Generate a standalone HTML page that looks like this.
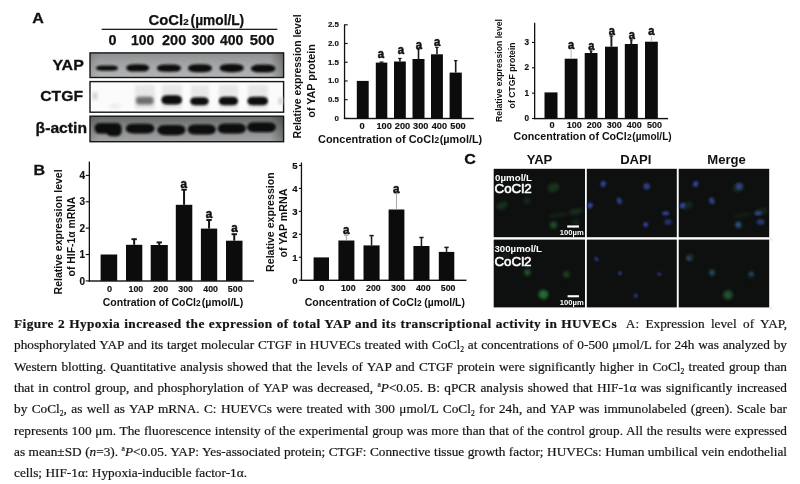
<!DOCTYPE html>
<html>
<head>
<meta charset="utf-8">
<title>Figure 2</title>
<style>
html,body{margin:0;padding:0;background:#fff;}
body{width:800px;height:484px;position:relative;overflow:hidden;font-family:"Liberation Sans",sans-serif;}
#fig{position:absolute;left:0;top:0;width:800px;height:315px;filter:blur(0.35px);}
#fig text{font-family:"Liberation Sans",sans-serif;font-weight:bold;fill:#111;}
.cap{position:absolute;left:14px;width:773px;height:22px;line-height:22px;font-family:"Liberation Serif",serif;font-size:13.3px;color:#141414;-webkit-text-stroke:0.2px #141414;white-space:nowrap;text-align:justify;text-align-last:justify;filter:blur(0.3px);}
.cap b{letter-spacing:0.42px;}
.cap sub{font-size:7.6px;vertical-align:-3px;line-height:0;}
.cap sup{font-size:7.6px;vertical-align:5px;line-height:0;}
</style>
</head>
<body>
<svg id="fig" width="800" height="315" viewBox="0 0 800 315">
<defs>
<filter id="b1" x="-20%" y="-50%" width="140%" height="200%"><feGaussianBlur stdDeviation="0.9"/></filter>
<filter id="b2" x="-30%" y="-60%" width="160%" height="220%"><feGaussianBlur stdDeviation="1.6"/></filter>
<filter id="b3" x="-5%" y="-5%" width="110%" height="110%"><feGaussianBlur stdDeviation="1.6"/></filter>
<filter id="b05" x="-5%" y="-5%" width="110%" height="110%"><feGaussianBlur stdDeviation="0.85"/></filter>
<linearGradient id="gy" x1="0" y1="0" x2="0" y2="1"><stop offset="0" stop-color="#8c8e8f"/><stop offset="0.4" stop-color="#a0a2a3"/><stop offset="1" stop-color="#b2b4b5"/></linearGradient>
<linearGradient id="ga" x1="0" y1="0" x2="0" y2="1"><stop offset="0" stop-color="#666969"/><stop offset="0.45" stop-color="#85888a"/><stop offset="1" stop-color="#a2a4a5"/></linearGradient>
<linearGradient id="ge" x1="0" y1="0" x2="1" y2="0"><stop offset="0" stop-color="#000" stop-opacity="0.10"/><stop offset="0.05" stop-color="#000" stop-opacity="0"/><stop offset="0.93" stop-color="#000" stop-opacity="0"/><stop offset="1" stop-color="#000" stop-opacity="0.28"/></linearGradient>
</defs>
<g id="blot">
<text x="32.3" y="22.6" font-size="15.4" textLength="11.6" lengthAdjust="spacingAndGlyphs" stroke="#111" stroke-width="0.3">A</text>
<text x="148.6" y="24.7" font-size="14.3" textLength="34.6" lengthAdjust="spacingAndGlyphs" stroke="#111" stroke-width="0.25">CoCl</text>
<text x="183.3" y="24.7" font-size="9.8" textLength="5.4" lengthAdjust="spacingAndGlyphs" stroke="#111" stroke-width="0.2">2</text>
<text x="190.6" y="24.7" font-size="14.3" textLength="53.6" lengthAdjust="spacingAndGlyphs" stroke="#111" stroke-width="0.25">(µmol/L)</text>
<rect x="101.7" y="28.7" width="175.6" height="1.3" fill="#1c1c1c"/>
<text x="112.5" y="45" font-size="14.4" text-anchor="middle" textLength="8" lengthAdjust="spacingAndGlyphs" stroke="#111" stroke-width="0.25">0</text>
<text x="142.7" y="45" font-size="14.4" text-anchor="middle" textLength="23.2" lengthAdjust="spacingAndGlyphs" stroke="#111" stroke-width="0.25">100</text>
<text x="174.1" y="45" font-size="14.4" text-anchor="middle" textLength="24.2" lengthAdjust="spacingAndGlyphs" stroke="#111" stroke-width="0.25">200</text>
<text x="203.1" y="45" font-size="14.4" text-anchor="middle" textLength="23.2" lengthAdjust="spacingAndGlyphs" stroke="#111" stroke-width="0.25">300</text>
<text x="231.7" y="45" font-size="14.4" text-anchor="middle" textLength="23.5" lengthAdjust="spacingAndGlyphs" stroke="#111" stroke-width="0.25">400</text>
<text x="262.1" y="45" font-size="14.4" text-anchor="middle" textLength="24.8" lengthAdjust="spacingAndGlyphs" stroke="#111" stroke-width="0.25">500</text>
<text x="52.4" y="69.8" font-size="15.4" textLength="31.4" lengthAdjust="spacingAndGlyphs" stroke="#111" stroke-width="0.3">YAP</text>
<text x="40.2" y="101.3" font-size="15.4" textLength="42.8" lengthAdjust="spacingAndGlyphs" stroke="#111" stroke-width="0.3">CTGF</text>
<text x="35.6" y="133.3" font-size="15.4" textLength="51.4" lengthAdjust="spacingAndGlyphs" stroke="#111" stroke-width="0.3">β-actin</text>
<rect x="90" y="52.9" width="193.6" height="24.6" fill="url(#gy)"/>
<rect x="90" y="52.9" width="193.6" height="24.6" fill="url(#ge)" stroke="#161616" stroke-width="1.4"/>
<g filter="url(#b1)" fill="#101010">
<path d="M96.0 68.1 Q96.0 65.4 102.5 65.4 L111.5 65.4 Q118.0 65.4 118.0 68.1 Q118.0 70.8 111.5 70.8 L102.5 70.8 Q96.0 70.8 96.0 68.1Z"/>
<path d="M126.2 67.9 Q126.2 64.2 135.1 64.2 L140.3 64.2 Q149.2 64.2 149.2 67.9 Q149.2 71.6 140.3 71.6 L135.1 71.6 Q126.2 71.6 126.2 67.9Z"/>
<path d="M157.0 68.2 Q157.0 64.6 165.6 64.6 L172.4 64.6 Q181.0 64.6 181.0 68.2 Q181.0 71.8 172.4 71.8 L165.6 71.8 Q157.0 71.8 157.0 68.2Z"/>
<path d="M188.0 68.2 Q188.0 64.2 197.6 64.2 L202.4 64.2 Q212.0 64.2 212.0 68.2 Q212.0 72.2 202.4 72.2 L197.6 72.2 Q188.0 72.2 188.0 68.2Z"/>
<path d="M219.6 68.1 Q219.6 64.0 229.4 64.0 L234.0 64.0 Q243.8 64.0 243.8 68.1 Q243.8 72.2 234.0 72.2 L229.4 72.2 Q219.6 72.2 219.6 68.1Z"/>
<path d="M250.9 68.6 Q250.9 64.6 260.5 64.6 L265.8 64.6 Q275.4 64.6 275.4 68.6 Q275.4 72.6 265.8 72.6 L260.5 72.6 Q250.9 72.6 250.9 68.6Z"/>
</g>
<rect x="90" y="81.6" width="193.6" height="30.6" fill="#fbfbfb" stroke="#161616" stroke-width="1.4"/>
<g filter="url(#b2)" fill="#cfcfcf" opacity="0.45"><rect x="135" y="85" width="20" height="24"/><rect x="162" y="85" width="20" height="24"/><rect x="191" y="85" width="18" height="24"/><rect x="219" y="85" width="19" height="24"/><rect x="248" y="85" width="20" height="24"/></g>
<g filter="url(#b2)"><rect x="136" y="96.8" width="17.5" height="7.6" rx="3" fill="#6e6e6e"/><ellipse cx="95" cy="96" rx="3" ry="4" fill="#d8d8d8"/><ellipse cx="280.5" cy="101" rx="2.5" ry="4" fill="#d8d8d8"/><ellipse cx="115" cy="106" rx="6" ry="3" fill="#eee"/></g>
<g filter="url(#b1)" fill="#0d0d0d">
<path d="M161.4 99.9 Q161.4 95.3 167.8 95.3 L175.6 95.3 Q182.0 95.3 182.0 99.9 Q182.0 104.5 175.6 104.5 L167.8 104.5 Q161.4 104.5 161.4 99.9Z"/>
<path d="M190.2 101.2 Q190.2 97.2 195.9 97.2 L202.9 97.2 Q208.6 97.2 208.6 101.2 Q208.6 105.3 202.9 105.3 L195.9 105.3 Q190.2 105.3 190.2 101.2Z"/>
<path d="M218.8 101.0 Q218.8 96.7 224.8 96.7 L232.0 96.7 Q238.0 96.7 238.0 101.0 Q238.0 105.3 232.0 105.3 L224.8 105.3 Q218.8 105.3 218.8 101.0Z"/>
<path d="M247.4 101.0 Q247.4 96.7 253.4 96.7 L262.0 96.7 Q268.0 96.7 268.0 101.0 Q268.0 105.3 262.0 105.3 L253.4 105.3 Q247.4 105.3 247.4 101.0Z"/>
</g>
<rect x="90" y="116.2" width="193.6" height="25.5" fill="url(#ga)"/>
<rect x="90" y="116.2" width="193.6" height="25.5" fill="url(#ge)" stroke="#161616" stroke-width="1.4"/>
<g filter="url(#b1)" fill="#0b0b0b">
<path d="M94.6 127.5 q0-4.6 6-4.6 h15 q6 0 6 5.4 v3 q0 5-6 5 h-3.5 q-3.5 0-5.5-2.6 h-6 q-6 0-6-5z"/>
<path d="M125.8 128.6 Q125.8 123.8 133.5 123.8 L146.7 123.8 Q154.4 123.8 154.4 128.6 Q154.4 133.4 146.7 133.4 L133.5 133.4 Q125.8 133.4 125.8 128.6Z"/>
<path d="M157.4 130.1 Q157.4 125.0 165.6 125.0 L177.2 125.0 Q185.4 125.0 185.4 130.1 Q185.4 135.2 177.2 135.2 L165.6 135.2 Q157.4 135.2 157.4 130.1Z"/>
<path d="M187.8 129.4 Q187.8 124.4 195.8 124.4 L207.7 124.4 Q215.7 124.4 215.7 129.4 Q215.7 134.4 207.7 134.4 L195.8 134.4 Q187.8 134.4 187.8 129.4Z"/>
<path d="M217.8 128.4 Q217.8 123.5 225.7 123.5 L237.9 123.5 Q245.8 123.5 245.8 128.4 Q245.8 133.4 237.9 133.4 L225.7 133.4 Q217.8 133.4 217.8 128.4Z"/>
<path d="M247.2 127.2 Q247.2 122.2 255.2 122.2 L267.8 122.2 Q275.8 122.2 275.8 127.2 Q275.8 132.2 267.8 132.2 L255.2 132.2 Q247.2 132.2 247.2 127.2Z"/>
</g>
</g>
<g id="c1">
<rect x="343.9" y="24.4" width="1.3" height="94.6" fill="#111"/>
<rect x="343.9" y="117.80000000000001" width="129.9" height="1.4" fill="#111"/>
<rect x="344.5" y="24.23" width="3.2" height="1.1" fill="#111"/>
<text x="338.9" y="27.1" font-size="7.9" text-anchor="end" stroke="#111" stroke-width="0.16">2.5</text>
<rect x="344.5" y="42.95" width="3.2" height="1.1" fill="#111"/>
<text x="338.9" y="45.8" font-size="7.9" text-anchor="end" stroke="#111" stroke-width="0.16">2.0</text>
<rect x="344.5" y="61.68" width="3.2" height="1.1" fill="#111"/>
<text x="338.9" y="64.6" font-size="7.9" text-anchor="end" stroke="#111" stroke-width="0.16">1.5</text>
<rect x="344.5" y="80.40" width="3.2" height="1.1" fill="#111"/>
<text x="338.9" y="83.3" font-size="7.9" text-anchor="end" stroke="#111" stroke-width="0.16">1.0</text>
<rect x="344.5" y="99.13" width="3.2" height="1.1" fill="#111"/>
<text x="338.9" y="102.0" font-size="7.9" text-anchor="end" stroke="#111" stroke-width="0.16">0.5</text>
<rect x="344.5" y="117.85" width="3.2" height="1.1" fill="#111"/>
<text x="338.9" y="120.7" font-size="7.9" text-anchor="end" stroke="#111" stroke-width="0.16">0</text>
<rect x="356.8" y="80.9" width="11.9" height="37.5" fill="#0c0c0c"/>
<rect x="375.8" y="62.6" width="11.5" height="55.8" fill="#0c0c0c"/>
<rect x="380.75" y="62.0" width="1.6" height="0.6" fill="#1a1a1a"/>
<rect x="379.55" y="61.45" width="4" height="1.2" fill="#1a1a1a"/>
<rect x="394" y="61.5" width="11.8" height="56.9" fill="#0c0c0c"/>
<rect x="399.10" y="58.4" width="1.6" height="3.1" fill="#1a1a1a"/>
<rect x="398.20" y="57.85" width="3.4" height="1.2" fill="#1a1a1a"/>
<rect x="412.5" y="59" width="12.0" height="59.4" fill="#0c0c0c"/>
<rect x="417.70" y="49" width="1.6" height="10.0" fill="#1a1a1a"/>
<rect x="416.80" y="48.45" width="3.4" height="1.2" fill="#1a1a1a"/>
<rect x="431" y="54.3" width="11.9" height="64.1" fill="#0c0c0c"/>
<rect x="436.15" y="47.3" width="1.6" height="7.0" fill="#1a1a1a"/>
<rect x="435.25" y="46.75" width="3.4" height="1.2" fill="#1a1a1a"/>
<rect x="449.6" y="72.6" width="12.2" height="45.8" fill="#0c0c0c"/>
<rect x="454.90" y="60.6" width="1.6" height="12.0" fill="#1a1a1a"/>
<rect x="454.00" y="60.05" width="3.4" height="1.2" fill="#1a1a1a"/>
<text x="380.9" y="58" font-size="12.4" text-anchor="middle" textLength="6.3" lengthAdjust="spacingAndGlyphs" stroke="#111" stroke-width="0.55">a</text>
<text x="400.9" y="53.8" font-size="12.4" text-anchor="middle" textLength="6.3" lengthAdjust="spacingAndGlyphs" stroke="#111" stroke-width="0.55">a</text>
<text x="418.9" y="49.2" font-size="12.4" text-anchor="middle" textLength="6.3" lengthAdjust="spacingAndGlyphs" stroke="#111" stroke-width="0.55">a</text>
<text x="437.1" y="45.9" font-size="12.4" text-anchor="middle" textLength="6.3" lengthAdjust="spacingAndGlyphs" stroke="#111" stroke-width="0.55">a</text>
<text x="362.2" y="128.9" font-size="9.4" text-anchor="middle" textLength="5.2" lengthAdjust="spacingAndGlyphs" stroke="#111" stroke-width="0.15">0</text>
<text x="384.1" y="128.9" font-size="9.4" text-anchor="middle" textLength="15.4" lengthAdjust="spacingAndGlyphs" stroke="#111" stroke-width="0.15">100</text>
<text x="402.5" y="128.9" font-size="9.4" text-anchor="middle" textLength="15.4" lengthAdjust="spacingAndGlyphs" stroke="#111" stroke-width="0.15">200</text>
<text x="420.8" y="128.9" font-size="9.4" text-anchor="middle" textLength="15.4" lengthAdjust="spacingAndGlyphs" stroke="#111" stroke-width="0.15">300</text>
<text x="439.4" y="128.9" font-size="9.4" text-anchor="middle" textLength="15.4" lengthAdjust="spacingAndGlyphs" stroke="#111" stroke-width="0.15">400</text>
<text x="458" y="128.9" font-size="9.4" text-anchor="middle" textLength="15.4" lengthAdjust="spacingAndGlyphs" stroke="#111" stroke-width="0.15">500</text>
<text x="318" y="142.6" font-size="10.8" textLength="116.2" lengthAdjust="spacingAndGlyphs">Concentration of CoCl</text>
<text x="434.5" y="142.6" font-size="9.6" textLength="4.7" lengthAdjust="spacingAndGlyphs">2</text>
<text x="439.7" y="142.6" font-size="10.8" textLength="42.5" lengthAdjust="spacingAndGlyphs">(µmol/L)</text>
<text transform="translate(301.0 76.4) rotate(-90)" font-size="10.5" text-anchor="middle" textLength="124" lengthAdjust="spacingAndGlyphs">Relative expression level</text>
<text transform="translate(315.2 80.9) rotate(-90)" font-size="10.5" text-anchor="middle" textLength="73.6" lengthAdjust="spacingAndGlyphs">of YAP protein</text>
</g>
<g id="c2">
<rect x="534.0" y="22.8" width="1.3" height="96.3" fill="#111"/>
<rect x="534.0" y="117.9" width="134.0" height="1.4" fill="#111"/>
<rect x="532.0" y="41.90" width="2.6" height="1.1" fill="#111"/>
<text x="529.1" y="45.1" font-size="8.2" text-anchor="end" stroke="#111" stroke-width="0.16">3</text>
<rect x="532.0" y="67.25" width="2.6" height="1.1" fill="#111"/>
<text x="529.1" y="70.4" font-size="8.2" text-anchor="end" stroke="#111" stroke-width="0.16">2</text>
<rect x="532.0" y="92.60" width="2.6" height="1.1" fill="#111"/>
<text x="529.1" y="95.8" font-size="8.2" text-anchor="end" stroke="#111" stroke-width="0.16">1</text>
<rect x="532.0" y="117.95" width="2.6" height="1.1" fill="#111"/>
<text x="529.1" y="121.1" font-size="8.2" text-anchor="end" stroke="#111" stroke-width="0.16">0</text>
<rect x="544.5" y="92.4" width="13.0" height="26.1" fill="#0c0c0c"/>
<rect x="564.7" y="58.7" width="12.8" height="59.8" fill="#0c0c0c"/>
<rect x="570.60" y="49.2" width="1.0" height="9.5" fill="#b8b8b8"/>
<rect x="584.7" y="53" width="12.8" height="65.5" fill="#0c0c0c"/>
<rect x="590.15" y="50.9" width="1.9" height="2.1" fill="#1c1c1c"/>
<rect x="589.60" y="50.35" width="3" height="1.2" fill="#1c1c1c"/>
<rect x="605" y="46.7" width="12.8" height="71.8" fill="#0c0c0c"/>
<rect x="610.45" y="35.9" width="1.9" height="10.8" fill="#1c1c1c"/>
<rect x="609.50" y="35.35" width="3.8" height="1.2" fill="#1c1c1c"/>
<rect x="624.8" y="44" width="13.0" height="74.5" fill="#0c0c0c"/>
<rect x="630.35" y="39.8" width="1.9" height="4.2" fill="#1c1c1c"/>
<rect x="629.80" y="39.25" width="3" height="1.2" fill="#1c1c1c"/>
<rect x="645" y="41.7" width="12.8" height="76.8" fill="#0c0c0c"/>
<rect x="650.90" y="36.5" width="1.0" height="5.2" fill="#b8b8b8"/>
<text x="571.2" y="48.5" font-size="12.2" text-anchor="middle" textLength="6.2" lengthAdjust="spacingAndGlyphs" stroke="#111" stroke-width="0.55">a</text>
<text x="591.3" y="50" font-size="12.2" text-anchor="middle" textLength="6.2" lengthAdjust="spacingAndGlyphs" stroke="#111" stroke-width="0.55">a</text>
<text x="611.8" y="35" font-size="12.2" text-anchor="middle" textLength="6.2" lengthAdjust="spacingAndGlyphs" stroke="#111" stroke-width="0.55">a</text>
<text x="631.9" y="39.2" font-size="12.2" text-anchor="middle" textLength="6.2" lengthAdjust="spacingAndGlyphs" stroke="#111" stroke-width="0.55">a</text>
<text x="651.3" y="35" font-size="12.2" text-anchor="middle" textLength="6.2" lengthAdjust="spacingAndGlyphs" stroke="#111" stroke-width="0.55">a</text>
<text x="552" y="128.4" font-size="9.2" text-anchor="middle" textLength="5.1" lengthAdjust="spacingAndGlyphs" stroke="#111" stroke-width="0.15">0</text>
<text x="574.2" y="128.4" font-size="9.2" text-anchor="middle" textLength="15" lengthAdjust="spacingAndGlyphs" stroke="#111" stroke-width="0.15">100</text>
<text x="594.2" y="128.4" font-size="9.2" text-anchor="middle" textLength="15" lengthAdjust="spacingAndGlyphs" stroke="#111" stroke-width="0.15">200</text>
<text x="614.3" y="128.4" font-size="9.2" text-anchor="middle" textLength="15" lengthAdjust="spacingAndGlyphs" stroke="#111" stroke-width="0.15">300</text>
<text x="634.3" y="128.4" font-size="9.2" text-anchor="middle" textLength="15" lengthAdjust="spacingAndGlyphs" stroke="#111" stroke-width="0.15">400</text>
<text x="654.5" y="128.4" font-size="9.2" text-anchor="middle" textLength="15" lengthAdjust="spacingAndGlyphs" stroke="#111" stroke-width="0.15">500</text>
<text x="513.6" y="140.3" font-size="10.4" textLength="113.2" lengthAdjust="spacingAndGlyphs">Concentration of CoCl</text>
<text x="627" y="140.3" font-size="9.6" textLength="4.7" lengthAdjust="spacingAndGlyphs">2</text>
<text x="632.3" y="140.3" font-size="10.4" textLength="39.4" lengthAdjust="spacingAndGlyphs">(µmol/L)</text>
<text transform="translate(501.6 70.5) rotate(-90)" font-size="8.8" text-anchor="middle" textLength="102.8" lengthAdjust="spacingAndGlyphs">Relative expression level</text>
<text transform="translate(515.3 75.4) rotate(-90)" font-size="8.8" text-anchor="middle" textLength="66" lengthAdjust="spacingAndGlyphs">of CTGF protein</text>
</g>
<g id="c3">
<rect x="88.7" y="161.6" width="1.3" height="119.9" fill="#111"/>
<rect x="88.7" y="280.29999999999995" width="165.3" height="1.4" fill="#111"/>
<rect x="85.7" y="174.83" width="3.6" height="1.1" fill="#111"/>
<text x="85.0" y="179.0" font-size="10" text-anchor="end" stroke="#111" stroke-width="0.16">4</text>
<rect x="85.7" y="201.21" width="3.6" height="1.1" fill="#111"/>
<text x="85.0" y="205.3" font-size="10" text-anchor="end" stroke="#111" stroke-width="0.16">3</text>
<rect x="85.7" y="227.59" width="3.6" height="1.1" fill="#111"/>
<text x="85.0" y="231.7" font-size="10" text-anchor="end" stroke="#111" stroke-width="0.16">2</text>
<rect x="85.7" y="253.97" width="3.6" height="1.1" fill="#111"/>
<text x="85.0" y="258.1" font-size="10" text-anchor="end" stroke="#111" stroke-width="0.16">1</text>
<rect x="85.7" y="280.35" width="3.6" height="1.1" fill="#111"/>
<text x="85.0" y="284.5" font-size="10" text-anchor="end" stroke="#111" stroke-width="0.16">0</text>
<rect x="100.6" y="254.5" width="16.6" height="26.4" fill="#0c0c0c"/>
<rect x="126" y="244.8" width="16.3" height="36.1" fill="#0c0c0c"/>
<rect x="133.15" y="238.8" width="2.0" height="6.0" fill="#141414"/>
<rect x="131.45" y="238.25" width="5.4" height="1.9" fill="#141414"/>
<rect x="150.7" y="245" width="17.1" height="35.9" fill="#0c0c0c"/>
<rect x="158.25" y="242" width="2.0" height="3.0" fill="#141414"/>
<rect x="156.55" y="241.45" width="5.4" height="1.9" fill="#141414"/>
<rect x="175.8" y="204.8" width="16.5" height="76.1" fill="#0c0c0c"/>
<rect x="183.05" y="189.3" width="2.0" height="15.5" fill="#141414"/>
<rect x="181.35" y="188.75" width="5.4" height="1.9" fill="#141414"/>
<rect x="200.9" y="228.6" width="16.3" height="52.3" fill="#0c0c0c"/>
<rect x="208.05" y="219.6" width="2.0" height="9.0" fill="#141414"/>
<rect x="206.35" y="219.05" width="5.4" height="1.9" fill="#141414"/>
<rect x="226" y="240.7" width="16.5" height="40.2" fill="#0c0c0c"/>
<rect x="233.25" y="233.8" width="2.0" height="6.9" fill="#141414"/>
<rect x="231.55" y="233.25" width="5.4" height="1.9" fill="#141414"/>
<text x="183.7" y="188.1" font-size="12.8" text-anchor="middle" textLength="6.5" lengthAdjust="spacingAndGlyphs" stroke="#111" stroke-width="0.55">a</text>
<text x="208.9" y="217.9" font-size="12.8" text-anchor="middle" textLength="6.5" lengthAdjust="spacingAndGlyphs" stroke="#111" stroke-width="0.55">a</text>
<text x="234.5" y="232" font-size="12.8" text-anchor="middle" textLength="6.5" lengthAdjust="spacingAndGlyphs" stroke="#111" stroke-width="0.55">a</text>
<text x="109.5" y="292.1" font-size="9.1" text-anchor="middle" textLength="5.1" lengthAdjust="spacingAndGlyphs" stroke="#111" stroke-width="0.15">0</text>
<text x="135.9" y="292.1" font-size="9.1" text-anchor="middle" textLength="14.7" lengthAdjust="spacingAndGlyphs" stroke="#111" stroke-width="0.15">100</text>
<text x="160.7" y="292.1" font-size="9.1" text-anchor="middle" textLength="14.7" lengthAdjust="spacingAndGlyphs" stroke="#111" stroke-width="0.15">200</text>
<text x="185.6" y="292.1" font-size="9.1" text-anchor="middle" textLength="14.7" lengthAdjust="spacingAndGlyphs" stroke="#111" stroke-width="0.15">300</text>
<text x="210.6" y="292.1" font-size="9.1" text-anchor="middle" textLength="14.7" lengthAdjust="spacingAndGlyphs" stroke="#111" stroke-width="0.15">400</text>
<text x="235.2" y="292.1" font-size="9.1" text-anchor="middle" textLength="14.7" lengthAdjust="spacingAndGlyphs" stroke="#111" stroke-width="0.15">500</text>
<text x="102.8" y="306" font-size="10.4" textLength="93.2" lengthAdjust="spacingAndGlyphs">Contration of CoCl</text>
<text x="196" y="306" font-size="9.6" textLength="4.7" lengthAdjust="spacingAndGlyphs">2</text>
<text x="201.8" y="306" font-size="10.4" textLength="41.6" lengthAdjust="spacingAndGlyphs">(µmol/L)</text>
<text transform="translate(62.4 231.9) rotate(-90)" font-size="10.5" text-anchor="middle" textLength="125" lengthAdjust="spacingAndGlyphs">Relative expression level</text>
<text transform="translate(75.2 236.6) rotate(-90)" font-size="10.4" text-anchor="middle" textLength="79.6" lengthAdjust="spacingAndGlyphs">of HIF-1α mRNA</text>
</g>
<text x="33.4" y="174.5" font-size="15.4" textLength="11.6" lengthAdjust="spacingAndGlyphs" stroke="#111" stroke-width="0.3">B</text>
<g id="c4">
<rect x="300.79999999999995" y="162.5" width="1.3" height="118.3" fill="#111"/>
<rect x="300.79999999999995" y="279.59999999999997" width="165.7" height="1.4" fill="#111"/>
<rect x="298.9" y="164.95" width="2.5" height="1.1" fill="#111"/>
<text x="297.5" y="168.9" font-size="9.6" text-anchor="end" stroke="#111" stroke-width="0.16">5</text>
<rect x="298.9" y="187.89" width="2.5" height="1.1" fill="#111"/>
<text x="297.5" y="191.9" font-size="9.6" text-anchor="end" stroke="#111" stroke-width="0.16">4</text>
<rect x="298.9" y="210.83" width="2.5" height="1.1" fill="#111"/>
<text x="297.5" y="214.8" font-size="9.6" text-anchor="end" stroke="#111" stroke-width="0.16">3</text>
<rect x="298.9" y="233.77" width="2.5" height="1.1" fill="#111"/>
<text x="297.5" y="237.8" font-size="9.6" text-anchor="end" stroke="#111" stroke-width="0.16">2</text>
<rect x="298.9" y="256.71" width="2.5" height="1.1" fill="#111"/>
<text x="297.5" y="260.7" font-size="9.6" text-anchor="end" stroke="#111" stroke-width="0.16">1</text>
<rect x="298.9" y="279.65" width="2.5" height="1.1" fill="#111"/>
<text x="297.5" y="283.6" font-size="9.6" text-anchor="end" stroke="#111" stroke-width="0.16">0</text>
<rect x="313.6" y="257.4" width="15.4" height="22.8" fill="#0c0c0c"/>
<rect x="338.4" y="240.5" width="16.0" height="39.7" fill="#0c0c0c"/>
<rect x="345.90" y="234.9" width="1.0" height="5.6" fill="#a8a8a8"/>
<rect x="344.40" y="234.35" width="4" height="1.5" fill="#a8a8a8"/>
<rect x="363.5" y="245.4" width="16.1" height="34.8" fill="#0c0c0c"/>
<rect x="370.80" y="235.4" width="1.5" height="10.0" fill="#1a1a1a"/>
<rect x="369.40" y="234.85" width="4.3" height="1.5" fill="#1a1a1a"/>
<rect x="388.6" y="209.5" width="15.8" height="70.7" fill="#0c0c0c"/>
<rect x="396.00" y="193.2" width="1.0" height="16.3" fill="#a8a8a8"/>
<rect x="394.50" y="192.65" width="4" height="1.5" fill="#a8a8a8"/>
<rect x="413.4" y="246" width="16.1" height="34.2" fill="#0c0c0c"/>
<rect x="420.70" y="237.3" width="1.5" height="8.7" fill="#1a1a1a"/>
<rect x="419.30" y="236.75" width="4.3" height="1.5" fill="#1a1a1a"/>
<rect x="438.8" y="251.9" width="15.5" height="28.3" fill="#0c0c0c"/>
<rect x="445.80" y="247.2" width="1.5" height="4.7" fill="#1a1a1a"/>
<rect x="444.40" y="246.65" width="4.3" height="1.5" fill="#1a1a1a"/>
<text x="346.3" y="234.2" font-size="12.8" text-anchor="middle" textLength="6.5" lengthAdjust="spacingAndGlyphs" stroke="#111" stroke-width="0.55">a</text>
<text x="396.3" y="192.8" font-size="12.8" text-anchor="middle" textLength="6.5" lengthAdjust="spacingAndGlyphs" stroke="#111" stroke-width="0.55">a</text>
<text x="321.7" y="291.1" font-size="9.1" text-anchor="middle" textLength="5.1" lengthAdjust="spacingAndGlyphs" stroke="#111" stroke-width="0.15">0</text>
<text x="348.3" y="291.1" font-size="9.1" text-anchor="middle" textLength="14.7" lengthAdjust="spacingAndGlyphs" stroke="#111" stroke-width="0.15">100</text>
<text x="373.4" y="291.1" font-size="9.1" text-anchor="middle" textLength="14.7" lengthAdjust="spacingAndGlyphs" stroke="#111" stroke-width="0.15">200</text>
<text x="398.4" y="291.1" font-size="9.1" text-anchor="middle" textLength="14.7" lengthAdjust="spacingAndGlyphs" stroke="#111" stroke-width="0.15">300</text>
<text x="423.3" y="291.1" font-size="9.1" text-anchor="middle" textLength="14.7" lengthAdjust="spacingAndGlyphs" stroke="#111" stroke-width="0.15">400</text>
<text x="448.1" y="291.1" font-size="9.1" text-anchor="middle" textLength="14.7" lengthAdjust="spacingAndGlyphs" stroke="#111" stroke-width="0.15">500</text>
<text x="304.7" y="306" font-size="10.4" textLength="112.2" lengthAdjust="spacingAndGlyphs">Concentration of CoCl</text>
<text x="417" y="306" font-size="9.6" textLength="4.7" lengthAdjust="spacingAndGlyphs">2</text>
<text x="424.3" y="306" font-size="10.4" textLength="40.6" lengthAdjust="spacingAndGlyphs">(µmol/L)</text>
<text transform="translate(274.4 222.1) rotate(-90)" font-size="10.5" text-anchor="middle" textLength="99.6" lengthAdjust="spacingAndGlyphs">Relative expression</text>
<text transform="translate(287 223.1) rotate(-90)" font-size="10.4" text-anchor="middle" textLength="69" lengthAdjust="spacingAndGlyphs">of YAP mRNA</text>
</g>
<g id="pc">
<text x="464.3" y="163.9" font-size="15.4" textLength="11.6" lengthAdjust="spacingAndGlyphs" stroke="#111" stroke-width="0.3">C</text>
<text x="539.5" y="163.6" font-size="13.1" text-anchor="middle">YAP</text>
<text x="635.8" y="163.6" font-size="13.1" text-anchor="middle">DAPI</text>
<text x="726.6" y="163.6" font-size="13.1" text-anchor="middle">Merge</text>
<rect x="493.7" y="168.8" width="91.3" height="68.4" fill="#0e1010"/>
<rect x="586.8" y="168.8" width="90.0" height="68.4" fill="#0e1010"/>
<rect x="678.7" y="168.8" width="90.5" height="68.4" fill="#0e1010"/>
<rect x="493.7" y="239.6" width="91.3" height="67.8" fill="#0e1010"/>
<rect x="586.8" y="239.6" width="90.0" height="67.8" fill="#0e1010"/>
<rect x="678.7" y="239.6" width="90.5" height="67.8" fill="#0e1010"/>
<g filter="url(#b3)">
<ellipse cx="553.5" cy="187.5" rx="6" ry="4.5" fill="#2a7a36" opacity="0.32" transform="rotate(-20 553.5 187.5)"/>
<ellipse cx="502" cy="205.5" rx="6" ry="3.5" fill="#2a7a36" opacity="0.3" transform="rotate(-25 502 205.5)"/>
<ellipse cx="527" cy="200.5" rx="3.5" ry="3.5" fill="#2a7a36" opacity="0.2" transform="rotate(0 527 200.5)"/>
<ellipse cx="576" cy="211.5" rx="7" ry="3" fill="#2a7a36" opacity="0.28" transform="rotate(-10 576 211.5)"/>
<ellipse cx="553.5" cy="225" rx="3.4" ry="3.6" fill="#2a7a36" opacity="0.6" transform="rotate(0 553.5 225)"/>
<ellipse cx="558" cy="215" rx="10" ry="2.5" fill="#2a7a36" opacity="0.14" transform="rotate(-8 558 215)"/>
<ellipse cx="576" cy="222" rx="4" ry="3" fill="#2a7a36" opacity="0.18" transform="rotate(0 576 222)"/>
<ellipse cx="527.4" cy="272.3" rx="3.2" ry="3.4" fill="#2a7a36" opacity="0.62" transform="rotate(0 527.4 272.3)"/>
<ellipse cx="566.3" cy="274.4" rx="3.2" ry="3.2" fill="#2a7a36" opacity="0.45" transform="rotate(0 566.3 274.4)"/>
<ellipse cx="543.4" cy="294.6" rx="4.8" ry="4.6" fill="#2a7a36" opacity="0.85" transform="rotate(0 543.4 294.6)"/>
<ellipse cx="505.5" cy="256" rx="4" ry="3" fill="#2a7a36" opacity="0.16" transform="rotate(0 505.5 256)"/>
<ellipse cx="738.5" cy="187.5" rx="6" ry="4.5" fill="#2a7a36" opacity="0.256" transform="rotate(-20 738.5 187.5)"/>
<ellipse cx="687" cy="205.5" rx="6" ry="3.5" fill="#2a7a36" opacity="0.24" transform="rotate(-25 687 205.5)"/>
<ellipse cx="712" cy="200.5" rx="3.5" ry="3.5" fill="#2a7a36" opacity="0.16000000000000003" transform="rotate(0 712 200.5)"/>
<ellipse cx="761" cy="211.5" rx="7" ry="3" fill="#2a7a36" opacity="0.22400000000000003" transform="rotate(-10 761 211.5)"/>
<ellipse cx="738.5" cy="225" rx="3.4" ry="3.6" fill="#2a7a36" opacity="0.48" transform="rotate(0 738.5 225)"/>
<ellipse cx="743" cy="215" rx="10" ry="2.5" fill="#2a7a36" opacity="0.11200000000000002" transform="rotate(-8 743 215)"/>
<ellipse cx="761" cy="222" rx="4" ry="3" fill="#2a7a36" opacity="0.144" transform="rotate(0 761 222)"/>
<ellipse cx="712.0" cy="272.6" rx="3.2" ry="3.4" fill="#2a7a36" opacity="0.434" transform="rotate(0 712.0 272.6)"/>
<ellipse cx="750.9" cy="274.7" rx="3.2" ry="3.2" fill="#2a7a36" opacity="0.315" transform="rotate(0 750.9 274.7)"/>
<ellipse cx="728.0" cy="294.90000000000003" rx="4.8" ry="4.6" fill="#2a7a36" opacity="0.595" transform="rotate(0 728.0 294.90000000000003)"/>
<ellipse cx="689.8" cy="257.6" rx="3.6" ry="3.4" fill="#2a7a36" opacity="0.4" transform="rotate(0 689.8 257.6)"/>
</g>
<g filter="url(#b05)">
<ellipse cx="603.2" cy="184" rx="2.6" ry="3" fill="#3347a4" opacity="0.9" transform="rotate(20 603.2 184)"/>
<ellipse cx="646.7" cy="186.3" rx="3.2" ry="3.4" fill="#3347a4" opacity="0.8" transform="rotate(0 646.7 186.3)"/>
<ellipse cx="619.3" cy="200.8" rx="2.4" ry="3.4" fill="#3347a4" opacity="0.8" transform="rotate(-25 619.3 200.8)"/>
<ellipse cx="590" cy="205.5" rx="2.6" ry="3" fill="#3347a4" opacity="0.95" transform="rotate(30 590 205.5)"/>
<ellipse cx="665.7" cy="213.2" rx="3.6" ry="2" fill="#3347a4" opacity="0.9" transform="rotate(0 665.7 213.2)"/>
<ellipse cx="668" cy="222" rx="3.8" ry="2.8" fill="#3347a4" opacity="0.6" transform="rotate(0 668 222)"/>
<ellipse cx="645.7" cy="224.6" rx="2.4" ry="2.4" fill="#3347a4" opacity="1" transform="rotate(0 645.7 224.6)"/>
<ellipse cx="596.4" cy="259" rx="2.4" ry="1.4" fill="#3347a4" opacity="0.9" transform="rotate(35 596.4 259)"/>
<ellipse cx="620" cy="273.2" rx="1.6" ry="1.8" fill="#3347a4" opacity="1" transform="rotate(0 620 273.2)"/>
<ellipse cx="659.4" cy="274" rx="2.2" ry="1.4" fill="#3347a4" opacity="0.85" transform="rotate(20 659.4 274)"/>
<ellipse cx="635.7" cy="295.7" rx="1.8" ry="2" fill="#3347a4" opacity="0.85" transform="rotate(0 635.7 295.7)"/>
<ellipse cx="695.7" cy="184" rx="2.6" ry="3" fill="#3347a4" opacity="0.9" transform="rotate(20 695.7 184)"/>
<ellipse cx="739.2" cy="186.3" rx="3.2" ry="3.4" fill="#3347a4" opacity="0.8" transform="rotate(0 739.2 186.3)"/>
<ellipse cx="711.8" cy="200.8" rx="2.4" ry="3.4" fill="#3347a4" opacity="0.8" transform="rotate(-25 711.8 200.8)"/>
<ellipse cx="682.5" cy="205.5" rx="2.6" ry="3" fill="#3347a4" opacity="0.95" transform="rotate(30 682.5 205.5)"/>
<ellipse cx="758.2" cy="213.2" rx="3.6" ry="2" fill="#3347a4" opacity="0.9" transform="rotate(0 758.2 213.2)"/>
<ellipse cx="760.5" cy="222" rx="3.8" ry="2.8" fill="#3347a4" opacity="0.6" transform="rotate(0 760.5 222)"/>
<ellipse cx="738.2" cy="224.6" rx="2.4" ry="2.4" fill="#3347a4" opacity="1" transform="rotate(0 738.2 224.6)"/>
<ellipse cx="688.5" cy="258.7" rx="2.4" ry="1.4" fill="#3347a4" opacity="0.9" transform="rotate(35 688.5 258.7)"/>
<ellipse cx="712.1" cy="272.9" rx="1.6" ry="1.8" fill="#3347a4" opacity="1" transform="rotate(0 712.1 272.9)"/>
<ellipse cx="751.5" cy="273.7" rx="2.2" ry="1.4" fill="#3347a4" opacity="0.85" transform="rotate(20 751.5 273.7)"/>
<ellipse cx="727.8000000000001" cy="295.4" rx="1.8" ry="2" fill="#3347a4" opacity="0.2975" transform="rotate(0 727.8000000000001 295.4)"/>
<rect x="769.8" y="238.6" width="2" height="1" fill="#58bfe6"/><rect x="769.8" y="307.6" width="2" height="1" fill="#58bfe6"/>
</g>
<text x="495" y="181.1" font-size="9.6" textLength="37" lengthAdjust="spacingAndGlyphs" fill="#fff" style="fill:#fff">0µmol/L</text>
<text x="494.5" y="193.1" font-size="13.2" textLength="37.2" lengthAdjust="spacingAndGlyphs" style="fill:#fff;font-weight:normal;stroke:#fff;stroke-width:0.6">CoCl2</text>
<text x="494.4" y="251.8" font-size="9.6" textLength="47.6" lengthAdjust="spacingAndGlyphs" fill="#fff" style="fill:#fff">300µmol/L</text>
<text x="494.5" y="265.9" font-size="13.2" textLength="37" lengthAdjust="spacingAndGlyphs" style="fill:#fff;font-weight:normal;stroke:#fff;stroke-width:0.6">CoCl2</text>
<rect x="567.2" y="225.4" width="11.8" height="2.2" fill="#fff"/>
<text x="559.8" y="234.6" font-size="7.4" textLength="24" lengthAdjust="spacingAndGlyphs" fill="#fff" style="fill:#fff">100µm</text>
<rect x="567.6" y="295.2" width="11.4" height="2.1" fill="#fff"/>
<text x="559.8" y="304.8" font-size="7.4" textLength="24" lengthAdjust="spacingAndGlyphs" fill="#fff" style="fill:#fff">100µm</text>
</g>
</svg>
<div class="cap" style="top:313px;text-align-last:left;"><b style="display:inline-block;width:603px;text-align-last:justify;">Figure 2 Hypoxia increased the expression of total YAP and its transcriptional activity in HUVECs</b><span style="display:inline-block;width:161.2px;margin-left:8.8px;text-align-last:justify;">A: Expression level of YAP,</span></div>
<div class="cap" style="top:334.3px">phosphorylated YAP and its target molecular CTGF in HUVECs treated with CoCl<sub>2</sub> at concentrations of 0-500 μmol/L for 24h was analyzed by</div>
<div class="cap" style="top:355.6px">Western blotting. Quantitative analysis showed that the levels of YAP and CTGF protein were significantly higher in CoCl<sub>2</sub> treated group than</div>
<div class="cap" style="top:376.9px">that in control group, and phosphorylation of YAP was decreased, <sup>a</sup><i>P</i>&lt;0.05. B: qPCR analysis showed that HIF-1α was significantly increased</div>
<div class="cap" style="top:398.2px">by CoCl<sub>2</sub>, as well as YAP mRNA. C: HUEVCs were treated with 300 μmol/L CoCl<sub>2</sub> for 24h, and YAP was immunolabeled (green). Scale bar</div>
<div class="cap" style="top:419.5px">represents 100 μm. The fluorescence intensity of the experimental group was more than that of the control group. All the results were expressed</div>
<div class="cap" style="top:440.8px">as mean±SD (<i>n</i>=3). <sup>a</sup><i>P</i>&lt;0.05. YAP: Yes-associated protein; CTGF: Connective tissue growth factor; HUVECs: Human umbilical vein endothelial</div>
<div class="cap" style="top:462.1px;text-align-last:left;">cells; HIF-1α: Hypoxia-inducible factor-1α.</div>
</body>
</html>
